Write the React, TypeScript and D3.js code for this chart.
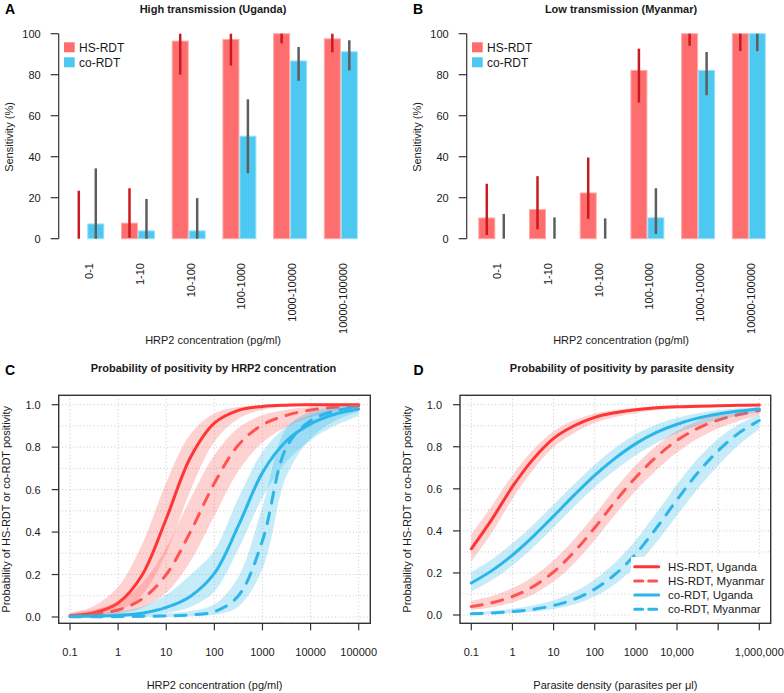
import React from "react";
import * as d3 from "d3";

// ---------- Data: panels A & B (sensitivity by HRP2 concentration bins) ----------
const concCats = ["0-1", "1-10", "10-100", "100-1000", "1000-10000", "10000-100000"];
const seriesNames = ["HS-RDT", "co-RDT"];

const ugHS = [0, 7.6, 96.4, 97.2, 100, 97.5];
const ugHSLo = [0, 0.5, 80, 84.4, 95.3, 90.9];
const ugHSHi = [23.4, 24.6, 100, 100, 100, 100];
const ugCo = [7.2, 3.8, 3.8, 50, 86.7, 91.2];
const ugCoLo = [0, 0, 0, 32, 77, 82.1];
const ugCoHi = [34.3, 19.4, 19.8, 68, 93.5, 96.8];

const myHS = [10.1, 14.2, 22.3, 82.1, 100, 100];
const myHSLo = [1.8, 4.6, 9.7, 66.4, 94.1, 91.5];
const myHSHi = [26.8, 30.5, 39.6, 92.7, 100, 100];
const myCo = [0, 0, 0, 10.2, 82.1, 100];
const myCoLo = [0, 0, 0, 2.3, 70, 91.5];
const myCoHi = [12.1, 10.4, 9.9, 24.6, 91.1, 100];

const barTicks = [0, 20, 40, 60, 80, 100];

// ---------- Data: panel C (probability by HRP2 concentration, log10 pg/ml) ----------
const cLog = [-1, -0.5, 0, 0.5, 1, 1.5, 2, 2.5, 3, 3.5, 4, 4.5, 5];
const cHsUgMid = [0.0058, 0.0198, 0.066, 0.198, 0.463, 0.75, 0.913, 0.973, 0.992, 0.9978, 0.9994, 0.9998, 0.9999];
const cHsUgLo = [0.0017, 0.0074, 0.029, 0.104, 0.3, 0.594, 0.825, 0.934, 0.9759, 0.991, 0.9965, 0.9986, 0.9995];
const cHsUgHi = [0.0189, 0.052, 0.142, 0.343, 0.634, 0.861, 0.959, 0.9895, 0.9975, 0.9994, 0.9999, 1, 1];
const cHsMyMid = [0.006, 0.014, 0.033, 0.085, 0.2, 0.4, 0.63, 0.81, 0.905, 0.95, 0.975, 0.988, 0.994];
const cHsMyLo = [0.002, 0.0055, 0.0148, 0.043, 0.1145, 0.262, 0.4755, 0.688, 0.822, 0.895, 0.9405, 0.968, 0.982];
const cHsMyHi = [0.0178, 0.0356, 0.0718, 0.16, 0.326, 0.556, 0.762, 0.892, 0.951, 0.9768, 0.9897, 0.9956, 0.998];
const cCoUgMid = [0.002, 0.004, 0.008, 0.018, 0.045, 0.097, 0.205, 0.43, 0.68, 0.83, 0.91, 0.955, 0.98];
const cCoUgLo = [0.00045, 0.001, 0.0024, 0.0064, 0.0183, 0.0474, 0.1207, 0.32, 0.563, 0.732, 0.833, 0.901, 0.947];
const cCoUgHi = [0.0089, 0.0152, 0.026, 0.0497, 0.105, 0.198, 0.313, 0.56, 0.778, 0.897, 0.953, 0.98, 0.9925];
const cCoMyMid = [0.0008, 0.0011, 0.002, 0.003, 0.005, 0.01, 0.025, 0.1, 0.36, 0.8, 0.925, 0.97, 0.99];
const cCoMyLo = [0.0001, 0.0002, 0.0004, 0.0008, 0.0015, 0.0035, 0.0103, 0.0497, 0.227, 0.665, 0.84, 0.9227, 0.968];
const cCoMyHi = [0.0048, 0.0057, 0.0089, 0.0115, 0.0165, 0.028, 0.0595, 0.19, 0.519, 0.8895, 0.9664, 0.9888, 0.997];
const cTicks = [0.1, 1, 10, 100, 1000, 10000, 100000];
const cTickLabels = ["0.1", "1", "10", "100", "1000", "10000", "100000"];

// ---------- Data: panel D (probability by parasite density, log10 parasites/µl) ----------
const dLog = [-1, -0.5, 0, 0.5, 1, 1.5, 2, 2.5, 3, 3.5, 4, 4.5, 5, 5.5, 6];
const dHsUgMid = [0.315, 0.455, 0.61, 0.74, 0.84, 0.9, 0.94, 0.962, 0.976, 0.985, 0.99, 0.993, 0.995, 0.997, 0.998];
const dHsUgLo = [0.2541, 0.3917, 0.5516, 0.689, 0.7987, 0.866, 0.9145, 0.942, 0.9608, 0.974, 0.9817, 0.986, 0.9895, 0.9934, 0.9953];
const dHsUgHi = [0.383, 0.52, 0.665, 0.785, 0.874, 0.926, 0.958, 0.9752, 0.985, 0.9913, 0.9946, 0.9964, 0.9976, 0.9987, 0.9992];
const dHsMyMid = [0.04, 0.058, 0.088, 0.135, 0.205, 0.3, 0.415, 0.54, 0.655, 0.752, 0.83, 0.887, 0.927, 0.953, 0.972];
const dHsMyLo = [0.0234, 0.0366, 0.0595, 0.098, 0.159, 0.2466, 0.3557, 0.4775, 0.5917, 0.6898, 0.773, 0.8376, 0.887, 0.9213, 0.9493];
const dHsMyHi = [0.0672, 0.0903, 0.128, 0.1824, 0.26, 0.36, 0.4765, 0.601, 0.7132, 0.8052, 0.875, 0.9227, 0.9535, 0.9723, 0.9848];
const dCoUgMid = [0.152, 0.211, 0.285, 0.373, 0.47, 0.57, 0.664, 0.746, 0.815, 0.868, 0.907, 0.936, 0.956, 0.97, 0.98];
const dCoUgLo = [0.112, 0.165, 0.2351, 0.3208, 0.4158, 0.515, 0.6083, 0.69, 0.7595, 0.8176, 0.8641, 0.9002, 0.9276, 0.9478, 0.9627];
const dCoUgHi = [0.2027, 0.265, 0.3407, 0.428, 0.525, 0.6225, 0.715, 0.7958, 0.8594, 0.9055, 0.9376, 0.9593, 0.9737, 0.983, 0.989];
const dCoMyMid = [0.0055, 0.0093, 0.016, 0.027, 0.045, 0.075, 0.123, 0.194, 0.291, 0.414, 0.548, 0.675, 0.781, 0.865, 0.925];
const dCoMyLo = [0.0025, 0.0046, 0.0087, 0.0157, 0.0283, 0.0507, 0.0883, 0.1476, 0.2333, 0.3459, 0.4733, 0.5987, 0.7114, 0.808, 0.8839];
const dCoMyHi = [0.0121, 0.0185, 0.0293, 0.0458, 0.0707, 0.11, 0.169, 0.251, 0.3566, 0.4858, 0.6208, 0.7427, 0.8379, 0.9069, 0.952];
const dTicks = [0.1, 1, 10, 100, 1000, 10000, 100000, 1000000];
const dTickLabels = ["0.1", "1", "10", "100", "1000", "10,000", "", "1,000,000"];

const probTicks = [0, 0.2, 0.4, 0.6, 0.8, 1.0];
const probGrid = [0, 0.1, 0.2, 0.3, 0.4, 0.5, 0.6, 0.7, 0.8, 0.9, 1.0];

const legendLabels = ["HS-RDT, Uganda", "HS-RDT, Myanmar", "co-RDT, Uganda", "co-RDT, Myanmar"];

// ---------- Styles ----------
const FONT = "'Liberation Sans', Arial, Helvetica, sans-serif";
const TXT = "#1a1a1a";
const RED_BAR = "#FF6E6E";
const RED_BAR_EDGE = "#FFA8A8";
const BLUE_BAR = "#4CC8F1";
const BLUE_BAR_EDGE = "#9ADFF7";
const RED_ERR = "#C81A20";
const GRAY_ERR = "#5E5E5E";
const RED_LINE = "#FF3535";
const RED_DASH = "#FF5252";
const BLUE_LINE = "#2BB5E9";
const RED_BAND = "rgba(255,95,95,0.28)";
const BLUE_BAND = "rgba(45,182,234,0.27)";
const AXIS = "#333";
const DASH = "11,10";

type BarProps = {
  dx: number;
  hs: number[]; hsLo: number[]; hsHi: number[];
  co: number[]; coLo: number[]; coHi: number[];
  title: string; letter: string;
};

function BarPanel(p: BarProps) {
  const { dx } = p;
  const y = d3.scaleLinear().domain([0, 100]).range([238.7, 33.7]);
  const x = d3.scaleBand<string>().domain(concCats).range([70.3 + dx, 357.8 + dx]).paddingInner(0.33).paddingOuter(0);
  const sub = d3.scaleBand<string>().domain(seriesNames).range([0, x.bandwidth()]);
  const axisX = 58.7 + dx;
  const vals = [
    { name: "HS-RDT", v: p.hs, lo: p.hsLo, hi: p.hsHi, fill: RED_BAR, edge: RED_BAR_EDGE, err: RED_ERR },
    { name: "co-RDT", v: p.co, lo: p.coLo, hi: p.coHi, fill: BLUE_BAR, edge: BLUE_BAR_EDGE, err: GRAY_ERR },
  ];
  return (
    <g>
      <text x={5 + dx} y={13.5} fontSize={14} fontWeight="bold" fontFamily={FONT} fill="#000">{p.letter}</text>
      <text x={213 + dx} y={13} fontSize={11} fontWeight="bold" fontFamily={FONT} textAnchor="middle" fill={TXT}>{p.title}</text>
      {concCats.map((c, i) => (
        <g key={c}>
          {vals.map((s) => {
            const bx = (x(c) as number) + (sub(s.name) as number);
            const w = sub.bandwidth();
            const top = y(s.v[i]);
            return (
              <g key={s.name}>
                {s.v[i] > 0 && (
                  <rect x={bx + 0.5} y={top} width={w - 1} height={y(0) - top} fill={s.fill} stroke={s.edge} strokeWidth={1} />
                )}
                <line x1={bx + w / 2} x2={bx + w / 2} y1={y(s.lo[i])} y2={y(s.hi[i])} stroke={s.err} strokeWidth={2.5} />
              </g>
            );
          })}
          <text
            transform={`translate(${(x(c) as number) + x.bandwidth() / 2 + 2},263) rotate(-90)`}
            textAnchor="end" dominantBaseline="central" fontSize={11} fontFamily={FONT} fill={TXT}
          >{c}</text>
        </g>
      ))}
      <line x1={axisX} x2={axisX} y1={y(0)} y2={y(100)} stroke={AXIS} strokeWidth={1.2} />
      {barTicks.map((t) => (
        <g key={t}>
          <line x1={axisX - 8} x2={axisX} y1={y(t)} y2={y(t)} stroke={AXIS} strokeWidth={1.2} />
          <text x={axisX - 18} y={y(t)} textAnchor="end" dominantBaseline="central" fontSize={11} fontFamily={FONT} fill={TXT}>{t}</text>
        </g>
      ))}
      <text transform={`translate(${8.5 + dx},137) rotate(-90)`} textAnchor="middle" dominantBaseline="central" fontSize={11} fontFamily={FONT} fill={TXT}>Sensitivity (%)</text>
      <text x={213 + dx} y={343.5} textAnchor="middle" fontSize={11} fontFamily={FONT} fill={TXT}>HRP2 concentration (pg/ml)</text>
      {vals.map((s, k) => (
        <g key={s.name}>
          <rect x={64 + dx} y={42.3 + k * 15} width={10.7} height={10} fill={s.fill} />
          <text x={79 + dx} y={47.5 + k * 15} dominantBaseline="central" fontSize={12} fontFamily={FONT} fill={TXT}>{s.name}</text>
        </g>
      ))}
    </g>
  );
}

type Series = { mid: number[]; lo: number[]; hi: number[]; color: string; band: string; dashed: boolean };

type CurveProps = {
  box: [number, number, number, number];
  xDomain: [number, number]; xRange: [number, number];
  yRange: [number, number];
  logs: number[];
  series: Series[];
  ticks: number[]; tickLabels: string[];
  title: string; titleX: number; letter: string; letterX: number;
  xLabel: string; yLabelX: number; tickLabelRight: number;
  legend?: boolean;
};

function CurvePanel(p: CurveProps) {
  const [bl, bt, br, bb] = p.box;
  const x = d3.scaleLog().domain(p.xDomain).range(p.xRange);
  const y = d3.scaleLinear().domain([0, 1]).range(p.yRange);
  const pts = p.logs.map((l) => Math.pow(10, l));
  const curve = d3.curveCatmullRom.alpha(0.5);
  const line = d3.line<number>().x((_, i) => x(pts[i])).y((v) => y(v)).curve(curve);
  const area = (lo: number[], hi: number[]) =>
    d3.area<number>().x((_, i) => x(pts[i])).y0((_, i) => y(lo[i])).y1((_, i) => y(hi[i])).curve(curve)(lo) || "";
  const lgTop = 557;
  return (
    <g>
      <text x={p.letterX} y={375} fontSize={14} fontWeight="bold" fontFamily={FONT} fill="#000">{p.letter}</text>
      <text x={p.titleX} y={372} fontSize={11} fontWeight="bold" fontFamily={FONT} textAnchor="middle" fill={TXT}>{p.title}</text>
      {/* grid */}
      {p.ticks.map((t) => (
        <line key={"gx" + t} x1={x(t)} x2={x(t)} y1={bt} y2={bb} stroke="#c9c9c9" strokeWidth={1} strokeDasharray="1,2.5" />
      ))}
      {probGrid.map((t) => (
        <line key={"gy" + t} x1={bl} x2={br} y1={y(t)} y2={y(t)} stroke="#c9c9c9" strokeWidth={1} strokeDasharray="1,2.5" />
      ))}
      {p.series.map((s, i) => (
        <g key={i}>
          <path d={area(s.lo, s.hi)} fill={s.band} stroke="none" />
          <path d={line(s.mid) || ""} fill="none" stroke={s.color} strokeWidth={3}
            strokeDasharray={s.dashed ? DASH : undefined} strokeLinecap="round" />
        </g>
      ))}
      {p.legend && (
        <g>
          <rect x={631} y={lgTop} width={br - 632} height={bb - lgTop - 6} fill="#fff" />
          {p.series.map((s, i) => (
            <g key={"lg" + i}>
              <line x1={634.7} x2={658.7} y1={566.7 + i * 14.2} y2={566.7 + i * 14.2} stroke={s.color} strokeWidth={3}
                strokeDasharray={s.dashed ? "8,6" : undefined} strokeLinecap="round" />
              <text x={668} y={566.7 + i * 14.2} dominantBaseline="central" fontSize={11.5} fontFamily={FONT} fill={TXT}>{legendLabels[i]}</text>
            </g>
          ))}
        </g>
      )}
      <rect x={bl} y={bt} width={br - bl} height={bb - bt} fill="none" stroke={AXIS} strokeWidth={1.4} />
      {p.ticks.map((t, i) => (
        <g key={"tx" + t}>
          <line x1={x(t)} x2={x(t)} y1={bb} y2={bb + 7} stroke={AXIS} strokeWidth={1.2} />
          <text x={x(t)} y={655.5} textAnchor="middle" fontSize={11} fontFamily={FONT} fill={TXT}>{p.tickLabels[i]}</text>
        </g>
      ))}
      {probTicks.map((t) => (
        <g key={"ty" + t}>
          <line x1={bl - 7} x2={bl} y1={y(t)} y2={y(t)} stroke={AXIS} strokeWidth={1.2} />
          <text x={p.tickLabelRight} y={y(t)} textAnchor="end" dominantBaseline="central" fontSize={11} fontFamily={FONT} fill={TXT}>{t.toFixed(1)}</text>
        </g>
      ))}
      <text transform={`translate(${p.yLabelX},${(bt + bb) / 2}) rotate(-90)`} textAnchor="middle" dominantBaseline="central" fontSize={11} fontFamily={FONT} fill={TXT}>Probability of HS-RDT or co-RDT positivity</text>
      <text x={(bl + br) / 2} y={689} textAnchor="middle" fontSize={11} fontFamily={FONT} fill={TXT}>{p.xLabel}</text>
    </g>
  );
}

export default function App() {
  const cSeries: Series[] = [
    { mid: cHsUgMid, lo: cHsUgLo, hi: cHsUgHi, color: RED_LINE, band: RED_BAND, dashed: false },
    { mid: cHsMyMid, lo: cHsMyLo, hi: cHsMyHi, color: RED_DASH, band: RED_BAND, dashed: true },
    { mid: cCoUgMid, lo: cCoUgLo, hi: cCoUgHi, color: BLUE_LINE, band: BLUE_BAND, dashed: false },
    { mid: cCoMyMid, lo: cCoMyLo, hi: cCoMyHi, color: BLUE_LINE, band: BLUE_BAND, dashed: true },
  ];
  const dSeries: Series[] = [
    { mid: dHsUgMid, lo: dHsUgLo, hi: dHsUgHi, color: RED_LINE, band: RED_BAND, dashed: false },
    { mid: dHsMyMid, lo: dHsMyLo, hi: dHsMyHi, color: RED_DASH, band: RED_BAND, dashed: true },
    { mid: dCoUgMid, lo: dCoUgLo, hi: dCoUgHi, color: BLUE_LINE, band: BLUE_BAND, dashed: false },
    { mid: dCoMyMid, lo: dCoMyLo, hi: dCoMyHi, color: BLUE_LINE, band: BLUE_BAND, dashed: true },
  ];
  return (
    <svg width={784} height={693} viewBox="0 0 784 693"
      style={{ position: "absolute", left: 0, top: 0, background: "#fff" }}>
      <rect x={0} y={0} width={784} height={693} fill="#fff" />
      <BarPanel dx={0} hs={ugHS} hsLo={ugHSLo} hsHi={ugHSHi} co={ugCo} coLo={ugCoLo} coHi={ugCoHi}
        title="High transmission (Uganda)" letter="A" />
      <BarPanel dx={408} hs={myHS} hsLo={myHSLo} hsHi={myHSHi} co={myCo} coLo={myCoLo} coHi={myCoHi}
        title="Low transmission (Myanmar)" letter="B" />
      <CurvePanel box={[58.7, 395.3, 370.3, 623.3]} xDomain={[0.1, 100000]} xRange={[70, 358.7]} yRange={[617, 404.7]}
        logs={cLog} series={cSeries} ticks={cTicks} tickLabels={cTickLabels}
        title="Probability of positivity by HRP2 concentration" titleX={213.5} letter="C" letterX={5}
        xLabel="HRP2 concentration (pg/ml)" yLabelX={6} tickLabelRight={40.7} />
      <CurvePanel box={[460, 395.3, 770.7, 623.3]} xDomain={[0.1, 1000000]} xRange={[471.3, 759.3]} yRange={[615, 404.7]}
        logs={dLog} series={dSeries} ticks={dTicks} tickLabels={dTickLabels}
        title="Probability of positivity by parasite density" titleX={622} letter="D" letterX={413.5}
        xLabel="Parasite density (parasites per μl)" yLabelX={407} tickLabelRight={442} legend />
    </svg>
  );
}
